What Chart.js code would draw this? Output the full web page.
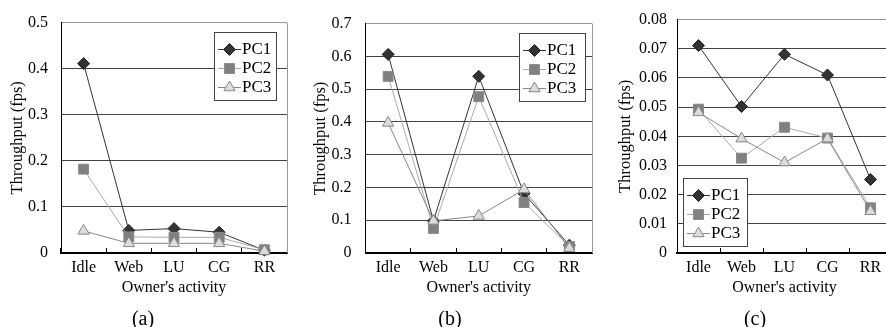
<!DOCTYPE html>
<html>
<head>
<meta charset="utf-8">
<script src="https://cdn.jsdelivr.net/npm/chart.js@4.4.1/dist/chart.umd.min.js"></script>
<style>
html, body { margin: 0; padding: 0; background: #fff; overflow: hidden; width: 886px; height: 327px; }
canvas { position: absolute; top: 0; }
.cap { position: absolute; top: 307px; width: 60px; text-align: center; font: 20px 'Liberation Serif', serif; line-height: 22px; color: #000; }
</style>
</head>
<body>
<canvas id="ca" width="295" height="327" style="left:0px"></canvas>
<canvas id="cb" width="300" height="327" style="left:300px"></canvas>
<canvas id="cc" width="300" height="327" style="left:600px"></canvas>
<div class="cap" style="left:113px">(a)</div>
<div class="cap" style="left:420px">(b)</div>
<div class="cap" style="left:725px">(c)</div>
<script>
// categories and series
const activities = ['Idle', 'Web', 'LU', 'CG', 'RR'];
const seriesNames = ['PC1', 'PC2', 'PC3'];

// (a)
const pc1A = [0.411, 0.049, 0.053, 0.045, 0.006];
const pc2A = [0.182, 0.035, 0.034, 0.034, 0.007];
const pc3A = [0.048, 0.021, 0.021, 0.021, 0.004];
// (b)
const pc1B = [0.606, 0.098, 0.539, 0.181, 0.024];
const pc2B = [0.539, 0.075, 0.477, 0.154, 0.020];
const pc3B = [0.397, 0.098, 0.113, 0.194, 0.015];
// (c)
const pc1C = [0.0711, 0.0502, 0.0681, 0.0610, 0.0252];
const pc2C = [0.0493, 0.0325, 0.0431, 0.0394, 0.0155];
const pc3C = [0.0482, 0.0392, 0.0310, 0.0392, 0.0143];

// y tick labels
const yTicksA = ['0', '0.1', '0.2', '0.3', '0.4', '0.5'];
const yTicksB = ['0', '0.1', '0.2', '0.3', '0.4', '0.5', '0.6', '0.7'];
const yTicksC = ['0', '0.01', '0.02', '0.03', '0.04', '0.05', '0.06', '0.07', '0.08'];

const FAMILY = "'Liberation Serif', 'Times New Roman', serif";

const seriesStyle = [
  { borderColor: '#333', pointStyle: 'rectRot', pointRadius: 6, pointBackgroundColor: '#333', pointBorderColor: '#222', order: 3 },
  { borderColor: '#aaa', pointStyle: 'rect', pointRadius: 7, pointBackgroundColor: '#808080', pointBorderColor: '#8a8a8a', order: 2 },
  { borderColor: '#888', pointStyle: 'triangle', pointRadius: 6.5, pointBackgroundColor: '#dcdcdc', pointBorderColor: '#888', order: 1 }
];

// right border of the plot box
const frameRight = {
  id: 'frameRight',
  beforeDatasetsDraw(chart) {
    const { ctx, chartArea } = chart;
    ctx.save();
    ctx.strokeStyle = '#999';
    ctx.lineWidth = 1;
    ctx.beginPath();
    const x = Math.round(chartArea.right) + 0.5;
    ctx.moveTo(x, chartArea.top);
    ctx.lineTo(x, chartArea.bottom);
    ctx.stroke();
    ctx.restore();
  }
};

// boxed legend inside the plot
const legendBox = {
  id: 'legendBox',
  afterDatasetsDraw(chart, args, o) {
    const { ctx, chartArea } = chart;
    const x = Math.round(o.left != null ? chartArea.left + o.left : chartArea.right - o.right - o.width);
    const y = Math.round(o.top != null ? chartArea.top + o.top : chartArea.bottom - o.bottom - o.height);
    ctx.save();
    ctx.fillStyle = '#fff';
    ctx.fillRect(x, y, o.width, o.height);
    ctx.strokeStyle = '#444';
    ctx.lineWidth = 1;
    ctx.strokeRect(x + 0.5, y + 0.5, o.width, o.height);
    chart.data.datasets.forEach((ds, i) => {
      const cy = y + 17 + i * 19;
      const lx = x + 4;
      ctx.strokeStyle = ds.borderColor;
      ctx.lineWidth = 1;
      ctx.beginPath();
      ctx.moveTo(lx, cy + 0.5);
      ctx.lineTo(lx + o.lineLen, cy + 0.5);
      ctx.stroke();
      ctx.fillStyle = ds.pointBackgroundColor;
      ctx.strokeStyle = ds.pointBorderColor;
      Chart.helpers.drawPoint(ctx, { pointStyle: ds.pointStyle, radius: ds.pointRadius, rotation: 0, borderWidth: 1 }, lx + o.lineLen / 2, cy + 0.5);
      ctx.fillStyle = '#000';
      ctx.font = '17px ' + FAMILY;
      ctx.textBaseline = 'middle';
      ctx.textAlign = 'left';
      ctx.fillText(ds.label, lx + o.lineLen + 1, cy + 1);
    });
    ctx.restore();
  }
};

function makeChart(id, series, ticks, p) {
  const max = parseFloat(ticks[ticks.length - 1]);
  return new Chart(document.getElementById(id), {
    type: 'line',
    data: {
      labels: activities,
      datasets: series.map((vals, i) => Object.assign({
        label: seriesNames[i],
        data: vals,
        borderWidth: 1,
        pointBorderWidth: 1,
        tension: 0,
        clip: false
      }, seriesStyle[i]))
    },
    options: {
      responsive: false,
      animation: false,
      layout: { padding: { top: 15, right: p.padRight, bottom: 20, left: 0 } },
      plugins: {
        legend: { display: false },
        tooltip: { enabled: false },
        legendBox: Object.assign({ width: p.legendW, height: 68, lineLen: 23 }, p.legend)
      },
      scales: {
        x: {
          offset: true,
          afterFit: s => { s.height = 54; },
          grid: { offset: true, drawOnChartArea: false, drawTicks: true, tickLength: -5, color: '#000', lineWidth: 1 },
          border: { color: '#000', width: 2 },
          ticks: { font: { family: FAMILY, size: 16 }, color: '#000', padding: 10, maxRotation: 0, autoSkip: false },
          title: { display: true, text: "Owner's activity", font: { family: FAMILY, size: 16 }, color: '#000', padding: { top: 0, bottom: 10 } }
        },
        y: {
          min: 0,
          max: max,
          afterBuildTicks: s => { s.ticks = ticks.map(t => ({ value: parseFloat(t) })); },
          afterFit: s => { s.width = p.axisW; },
          grid: {
            drawTicks: false,
            lineWidth: 1,
            color: c => (c.tick && c.tick.value === max) ? '#999' : (c.tick && c.tick.value === 0 ? 'rgba(0,0,0,0)' : '#444')
          },
          border: { color: '#000', width: 1 },
          ticks: { callback: (v, i) => ticks[i], font: { family: FAMILY, size: 16 }, color: '#000', padding: p.labelPad },
          title: { display: true, text: 'Throughput (fps)', font: { family: FAMILY, size: 16.5 }, color: '#000', padding: { top: p.titlePad, bottom: 0 } }
        }
      }
    },
    plugins: [frameRight, legendBox]
  });
}

makeChart('ca', [pc1A, pc2A, pc3A], yTicksA, { axisW: 61, titlePad: 8, labelPad: 13, padRight: 7, legendW: 62, legend: { right: 11, top: 9 } });
makeChart('cb', [pc1B, pc2B, pc3B], yTicksB, { axisW: 65.5, titlePad: 11, labelPad: 14, padRight: 8, legendW: 66, legend: { right: 7, top: 9 } });
makeChart('cc', [pc1C, pc2C, pc3C], yTicksC, { axisW: 77, titlePad: 16, labelPad: 10, padRight: 3, legendW: 64, legend: { left: 6, bottom: 7 } });
</script>
</body>
</html>
